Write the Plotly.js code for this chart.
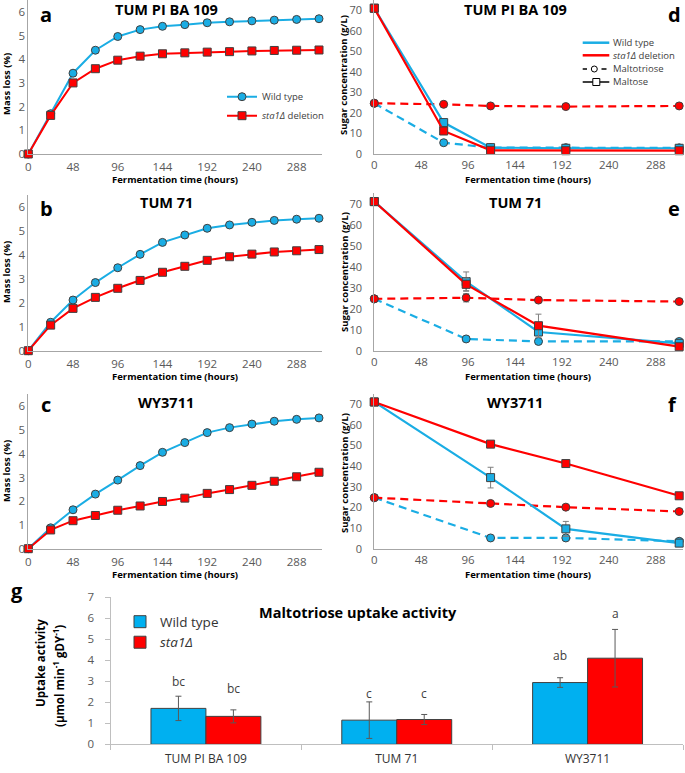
<!DOCTYPE html>
<html><head><meta charset="utf-8">
<script src="https://cdn.plot.ly/plotly-3.0.1.min.js"></script>
<style>html,body{margin:0;padding:0;background:#fff}#chart{width:685px;height:773px}</style>
</head><body><div id="chart"></div>
<script>
// ---------- data ----------
const hoursML = [0,24,48,72,96,120,144,168,192,216,240,264,288,312];
const massLossWtA  = [0,1.70,3.41,4.38,4.96,5.25,5.39,5.46,5.54,5.58,5.62,5.65,5.68,5.71];
const massLossDelA = [0,1.63,3.00,3.60,3.96,4.13,4.23,4.27,4.30,4.32,4.35,4.37,4.38,4.39];
const massLossWtB  = [0,1.19,2.12,2.85,3.47,4.03,4.53,4.84,5.12,5.26,5.37,5.45,5.50,5.54];
const massLossDelB = [0,1.07,1.77,2.23,2.61,2.94,3.28,3.53,3.78,3.93,4.04,4.13,4.18,4.23];
const massLossWtC  = [0,0.88,1.64,2.30,2.89,3.50,4.06,4.47,4.89,5.10,5.25,5.37,5.45,5.51];
const massLossDelC = [0,0.79,1.18,1.40,1.62,1.80,1.99,2.13,2.33,2.49,2.67,2.84,3.03,3.22];

const hoursD = [0,71,119,196,312];
const maltoseWtD  = [71,15.3,3.1,2.8,2.8];
const maltoseDelD = [71,11.2,1.8,1.6,1.6];
const triWtD  = [24.7,5.5,3.1,3.1,3.0];
const triDelD = [24.7,24.2,23.4,23.1,23.4];

const hoursE = [0,94,168,312];
const maltoseWtE  = [71,32.9,8.9,3.5];
const maltoseWtErrE = [0,4.6,1.0,0.3];
const maltoseDelE = [71,31.6,11.9,1.9];
const maltoseDelErrE = [0,3.0,5.5,0.3];
const triWtE  = [24.7,5.6,4.4,4.4];
const triDelE = [24.7,25.2,24.1,23.4];
const triDelErrE = [0,2.0,0.5,0.3];

const hoursF = [0,119,196,312];
const maltoseWtF  = [71,34.4,9.6,2.7];
const maltoseWtErrF = [0,5.0,3.6,0.5];
const maltoseDelF = [71,50.6,41.2,25.6];
const triWtF  = [24.7,5.2,5.2,3.6];
const triDelF = [24.7,21.9,20.1,18.0];

const strains = ['TUM PI BA 109','TUM 71','WY3711'];
const uptakeWt = [1.71,1.15,2.94];
const uptakeWtErr = [0.58,0.87,0.23];
const uptakeDel = [1.33,1.18,4.10];
const uptakeDelErr = [0.31,0.24,1.37];
const lettersWt  = ['bc','c','ab'];
const lettersDel = ['bc','c','a'];
const letterHeightWt  = [3.0,2.44,4.23];
const letterHeightDel = [2.64,2.44,6.22];

const panelTitles = ['TUM PI BA 109','TUM 71','WY3711'];

// ---------- style ----------
const W = 685, H = 773;
const X = p => p / W, Y = p => 1 - p / H;
const BLUE = '#1AADE4', RED = '#FF0000', BARBLUE = '#00B0F0';
const EDGE = '#404040', AXIS = '#A6A6A6', TICK = '#595959';
const OS = 'Open Sans, sans-serif';

const traces = [];
function mlTrace(y, color, sym, n, name, showleg) {
  traces.push({
    x: hoursML, y: y, xaxis: 'x' + n, yaxis: 'y' + n, type: 'scatter', mode: 'lines+markers',
    name: name, showlegend: showleg, legend: 'legend', cliponaxis: false,
    line: {color: color, width: 2},
    marker: {symbol: sym, size: 8, color: color, line: {color: EDGE, width: 1}}
  });
}
mlTrace(massLossWtA, BLUE, 'circle', '', 'Wild type', true);
mlTrace(massLossDelA, RED, 'square', '', '<i>sta1Δ</i> deletion', true);
mlTrace(massLossWtB, BLUE, 'circle', '2', 'Wild type', false);
mlTrace(massLossDelB, RED, 'square', '2', 'sta1Δ deletion', false);
mlTrace(massLossWtC, BLUE, 'circle', '3', 'Wild type', false);
mlTrace(massLossDelC, RED, 'square', '3', 'sta1Δ deletion', false);

function sugarTrace(x, y, err, color, sym, dash, n) {
  const t = {
    x: x, y: y, xaxis: 'x' + n, yaxis: 'y' + n, type: 'scatter', mode: 'lines+markers',
    showlegend: false, cliponaxis: false,
    line: {color: color, width: 2.2, dash: dash},
    marker: {symbol: sym, size: 8, color: color, line: {color: EDGE, width: 1}}
  };
  if (err) t.error_y = {type: 'data', array: err, color: '#7F7F7F', thickness: 1, width: 3};
  traces.push(t);
}
const DASH = '8px,5px';
sugarTrace(hoursD, triWtD, null, BLUE, 'circle', DASH, '4');
sugarTrace(hoursD, triDelD, null, RED, 'circle', DASH, '4');
sugarTrace(hoursD, maltoseWtD, null, BLUE, 'square', 'solid', '4');
sugarTrace(hoursD, maltoseDelD, null, RED, 'square', 'solid', '4');

sugarTrace(hoursE, triWtE, null, BLUE, 'circle', DASH, '5');
sugarTrace(hoursE, triDelE, triDelErrE, RED, 'circle', DASH, '5');
sugarTrace(hoursE, maltoseWtE, maltoseWtErrE, BLUE, 'square', 'solid', '5');
sugarTrace(hoursE, maltoseDelE, maltoseDelErrE, RED, 'square', 'solid', '5');

sugarTrace(hoursF, triWtF, null, BLUE, 'circle', DASH, '6');
sugarTrace(hoursF, triDelF, null, RED, 'circle', DASH, '6');
sugarTrace(hoursF, maltoseWtF, maltoseWtErrF, BLUE, 'square', 'solid', '6');
sugarTrace(hoursF, maltoseDelF, null, RED, 'square', 'solid', '6');

traces.push({
  type: 'bar', x: strains, y: uptakeWt, name: 'Wild type', xaxis: 'x7', yaxis: 'y7', legend: 'legend2',
  marker: {color: BARBLUE, line: {color: EDGE, width: 1}},
  error_y: {type: 'data', array: uptakeWtErr, color: '#595959', thickness: 1, width: 3}
});
traces.push({
  type: 'bar', x: strains, y: uptakeDel, name: '<i>sta1Δ</i>', xaxis: 'x7', yaxis: 'y7', legend: 'legend2',
  marker: {color: RED, line: {color: EDGE, width: 1}},
  error_y: {type: 'data', array: uptakeDelErr, color: '#595959', thickness: 1, width: 3}
});

// ---------- axes ----------
const baseAx = {showline: true, linecolor: AXIS, linewidth: 1, showgrid: false, zeroline: false,
  ticks: '', tickfont: {family: OS, size: 11.5, color: TICK}, fixedrange: true};
const leftX = [X(28.3), X(321.8)], rightX = [X(374.3), X(683.1)];
function xa(dom, rng, anchor, standoff) {
  return Object.assign({}, baseAx, {domain: dom, range: rng, anchor: anchor, dtick: 48, tick0: 0, ticklabelstandoff: standoff});
}
function ya(dom, rng, dt, anchor, standoff, fs) {
  return Object.assign({}, baseAx, {domain: dom, range: rng, dtick: dt, tick0: 0, anchor: anchor,
    ticklabelstandoff: standoff, tickfont: {family: OS, size: fs, color: TICK}});
}
const rowA = [Y(154), Y(0)], rowB = [Y(350.7), Y(195.3)], rowC = [Y(548.7), Y(394.4)];
const rowD = [Y(154), Y(0)], rowE = [Y(350.7), Y(193.2)], rowF = [Y(548.7), Y(393.7)];

const layout = {
  width: W, height: H, margin: {l: 0, r: 0, t: 0, b: 0}, paper_bgcolor: '#fff', plot_bgcolor: 'rgba(0,0,0,0)',
  font: {family: OS, color: '#404040'},
  showlegend: true,
  xaxis: xa(leftX, [0, 315], 'y', 2), yaxis: ya(rowA, [0, 6.5], 1, 'x', 0, 11.5),
  xaxis2: xa(leftX, [0, 315], 'y2', 2), yaxis2: ya(rowB, [0, 6.5], 1, 'x2', 0, 11.5),
  xaxis3: xa(leftX, [0, 315], 'y3', 2), yaxis3: ya(rowC, [0, 6.5], 1, 'x3', 0, 11.5),
  xaxis4: xa(rightX, [0, 316], 'y4', 0), yaxis4: ya(rowD, [0, 75], 10, 'x4', 9, 11),
  xaxis5: xa(rightX, [0, 316], 'y5', 0), yaxis5: ya(rowE, [0, 75], 10, 'x5', 9, 11),
  xaxis6: xa(rightX, [0, 316], 'y6', 0), yaxis6: ya(rowF, [0, 75], 10, 'x6', 9, 11),
  xaxis7: Object.assign({}, baseAx, {domain: [X(110.5), X(683)], anchor: 'y7', type: 'category', range: [-0.5, 2.5],
    ticks: 'outside', tickson: 'boundaries', ticklen: 5, tickcolor: '#BFBFBF', linecolor: '#BFBFBF',
    tickfont: {family: OS, size: 12, color: '#333'}, ticklabelstandoff: 3}),
  yaxis7: Object.assign({}, baseAx, {domain: [Y(744.3), Y(597.3)], anchor: 'x7', range: [0, 7], dtick: 1,
    ticks: 'outside', ticklen: 5, tickcolor: '#BFBFBF', linecolor: '#BFBFBF', ticklabelstandoff: 8}),
  barmode: 'group', bargap: 0.424, bargroupgap: 0,
  legend: {x: X(222), y: Y(82.2), xanchor: 'left', yanchor: 'top', bgcolor: 'rgba(0,0,0,0)',
    font: {family: OS, size: 9.5, color: '#404040'}},
  legend2: {x: X(120), y: Y(606.4), xanchor: 'left', yanchor: 'top', bgcolor: 'rgba(0,0,0,0)',
    font: {family: OS, size: 13.5, color: '#333'}},
  annotations: [], shapes: []
};

const ann = layout.annotations;
function txt(text, x, y, size, opts) {
  ann.push(Object.assign({text: text, x: X(x), y: Y(y), xref: 'paper', yref: 'paper', showarrow: false,
    xanchor: 'center', yanchor: 'middle', font: {family: OS, size: size, color: '#000'}}, opts || {}));
}
// panel titles
const titleRows = [9, 203, 402];
panelTitles.forEach((t, i) => {
  txt('<b>' + t + '</b>', 166, titleRows[i], 14.5);
  txt('<b>' + t + '</b>', 515, titleRows[i], 14.5);
});
// panel letters
[['a', 46, 14.5], ['b', 46, 208], ['c', 46, 404.5], ['d', 674, 14.5], ['e', 674, 208], ['f', 672, 404.5], ['g', 17, 590]]
  .forEach(p => txt('<b>' + p[0] + '</b>', p[1], p[2], 20));
// axis titles
[179.5, 376, 574].forEach(yy => {
  txt('<b>Fermentation time (hours)</b>', 175, yy, 9.5);
  txt('<b>Fermentation time (hours)</b>', 528, yy, 9.5);
});
[84, 272, 471].forEach(yy => txt('<b>Mass loss (%)</b>', 6, yy, 9.5, {textangle: -90}));
[75, 272, 473].forEach(yy => txt('<b>Sugar concentration (g/L)</b>', 344, yy, 9.5, {textangle: -90}));
// panel g titles
txt('<b>Maltotriose uptake activity</b>', 358, 612, 14.5);
txt('<b>Uptake activity</b>', 40, 663, 11.5, {textangle: -90});
txt('<b>(µmol min<sup>-1</sup> gDY<sup>-1</sup>)</b>', 58, 676, 11.5, {textangle: -90});
// significance letters
strains.forEach((s, i) => {
  ann.push({text: lettersWt[i], x: i, y: letterHeightWt[i], xref: 'x7', yref: 'y7', xshift: -27.5, showarrow: false,
    font: {family: OS, size: 12, color: '#404040'}});
  ann.push({text: lettersDel[i], x: i, y: letterHeightDel[i], xref: 'x7', yref: 'y7', xshift: 27.5, showarrow: false,
    font: {family: OS, size: 12, color: '#404040'}});
});

// manual legend for panel d
const sh = layout.shapes;
function seg(x0, x1, y, color, w) {
  sh.push({type: 'line', xref: 'paper', yref: 'paper', x0: X(x0), x1: X(x1), y0: Y(y), y1: Y(y), line: {color: color, width: w}});
}
seg(582.7, 609.3, 42.7, BLUE, 2.5);
seg(582.7, 609.3, 55.3, RED, 2.5);
seg(582.7, 587, 69, '#000', 1.5);
seg(601.5, 606.5, 69, '#000', 1.5);
sh.push({type: 'circle', xref: 'paper', yref: 'paper', xsizemode: 'pixel', ysizemode: 'pixel',
  xanchor: X(594.3), yanchor: Y(69), x0: -3, x1: 3, y0: -3, y1: 3, line: {color: '#000', width: 1}, fillcolor: '#fff'});
seg(582.7, 609.3, 82, '#000', 1.5);
sh.push({type: 'rect', xref: 'paper', yref: 'paper', xsizemode: 'pixel', ysizemode: 'pixel',
  xanchor: X(596.3), yanchor: Y(82), x0: -3.5, x1: 3.5, y0: -3.5, y1: 3.5, line: {color: '#000', width: 1}, fillcolor: '#fff'});
[['Wild type', 42.7], ['<i>sta1Δ</i> deletion', 55.3], ['Maltotriose', 69], ['Maltose', 82]].forEach(r =>
  txt(r[0], 610.7, r[1], 9.5, {xanchor: 'left', font: {family: OS, size: 9.5, color: '#404040'}}));

Plotly.newPlot('chart', traces, layout, {staticPlot: true, displayModeBar: false});
</script>
</body></html>
